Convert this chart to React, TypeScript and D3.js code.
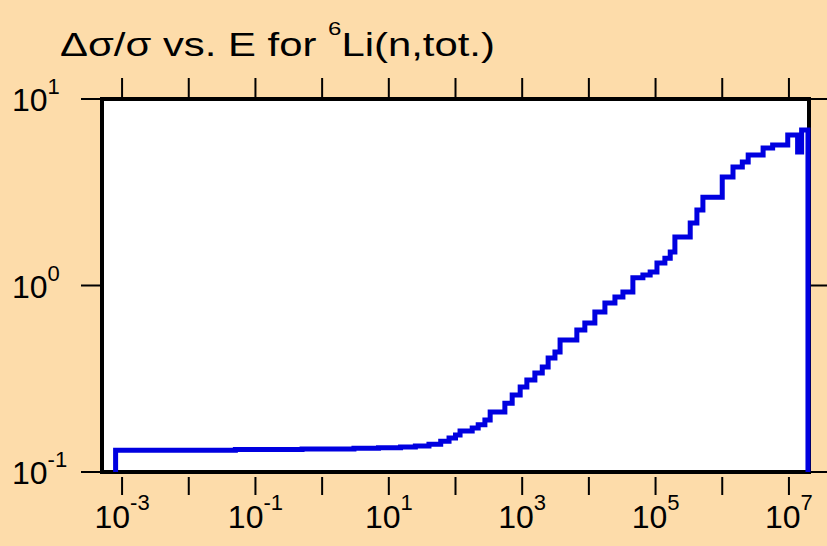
import React, { useEffect, useRef } from 'react';
import * as d3 from 'd3';

// lower edge of each energy bin (eV) and the relative uncertainty in it
const binStart = [
  8e-4, 0.05, 0.5, 3, 7, 15, 25, 40, 60, 80, 100,
  117, 178, 219, 276, 331, 550, 708, 933, 1175, 1550, 2000, 2450, 3100,
  3700, 6600, 8700, 12300, 17400, 24600, 32400, 45700, 64600, 83000,
  105000, 138000, 166000, 195000, 331000, 417000, 513000,
  1.0e6, 1.45e6, 2.0e6, 2.45e6, 4.1e6, 5.7e6, 9.6e6, 1.35e7, 1.55e7,
];
const ratio = [
  0.131, 0.132, 0.133, 0.134, 0.135, 0.136, 0.138, 0.141, 0.146, 0.152, 0.158,
  0.166, 0.172, 0.179, 0.19, 0.21, 0.234, 0.259, 0.286, 0.311, 0.34, 0.366, 0.409, 0.44,
  0.51, 0.577, 0.629, 0.721, 0.805, 0.867, 0.923, 1.1, 1.14, 1.18,
  1.32, 1.4, 1.51, 1.82, 2.16, 2.54, 2.97,
  3.82, 4.32, 4.59, 5.01, 5.46, 5.66, 6.41, 5.2, 6.82,
];
const lastEdge = 1.93e7;

const xTicks = [1e-3, 1e-2, 1e-1, 1, 10, 100, 1e3, 1e4, 1e5, 1e6, 1e7];
const xLabels = [-3, -1, 1, 3, 5, 7];
const yLabels = [-1, 0, 1];

const FONT = "'Liberation Sans', Arial, Helvetica, sans-serif";

function App() {
  const svgRef = useRef(null);

  useEffect(() => {
    const svg = d3.select(svgRef.current);
    svg.selectAll('*').remove();

    const x = d3.scaleLog().domain([5e-4, 2e7]).range([102, 809]);
    const y = d3.scaleLog().domain([0.1, 10]).range([472, 99]);

    svg.append('rect').attr('width', 827).attr('height', 546).attr('fill', '#fddcaa');

    // title (the original lettering is wider than the font, so stretch it)
    const tg = svg.append('g').attr('transform', 'translate(60,56)');
    const title = tg.append('text')
      .attr('font-family', FONT).attr('font-size', 33).attr('fill', '#000');
    title.append('tspan').text('\u0394\u03c3/\u03c3 vs. E for ');
    title.append('tspan').attr('font-size', 19).attr('dy', -21).text('6');
    title.append('tspan').attr('dy', 21).text('Li(n,tot.)');
    const bb = title.node().getBBox();
    if (bb.width > 0) tg.attr('transform', `translate(60,56) scale(${435 / bb.width},1)`);

    // plot area
    svg.append('rect')
      .attr('x', x.range()[0]).attr('y', y.range()[1])
      .attr('width', x.range()[1] - x.range()[0])
      .attr('height', y.range()[0] - y.range()[1])
      .attr('fill', '#fff')
      .attr('stroke', '#000')
      .attr('stroke-width', 4);

    // ticks outside the frame
    const tk = svg.append('g').attr('stroke', '#000').attr('stroke-width', 2);
    xTicks.forEach((t) => {
      tk.append('line').attr('x1', x(t)).attr('x2', x(t)).attr('y1', 477).attr('y2', 495);
      tk.append('line').attr('x1', x(t)).attr('x2', x(t)).attr('y1', 78).attr('y2', 97);
    });
    yLabels.forEach((p) => {
      const yy = y(Math.pow(10, p));
      tk.append('line').attr('x1', 81).attr('x2', 100).attr('y1', yy).attr('y2', yy);
      tk.append('line').attr('x1', 811).attr('x2', 827).attr('y1', yy).attr('y2', yy);
    });

    // tick labels
    xLabels.forEach((p) => {
      const t = svg.append('text')
        .attr('x', x(Math.pow(10, p))).attr('y', 528)
        .attr('text-anchor', 'middle')
        .attr('font-family', FONT).attr('font-size', 32);
      t.append('tspan').text('10');
      t.append('tspan').attr('font-size', 22).attr('dy', -18).text(String(p));
    });
    yLabels.forEach((p) => {
      const t = svg.append('text')
        .attr('x', 12).attr('y', y(Math.pow(10, p)) + 12)
        .attr('font-family', FONT).attr('font-size', 32);
      t.append('tspan').text('10');
      t.append('tspan').attr('font-size', 22).attr('dy', -17).text(String(p));
    });

    // histogram outline
    const pts = [[binStart[0], 0.1]];
    binStart.forEach((e, i) => {
      const next = i < binStart.length - 1 ? binStart[i + 1] : lastEdge;
      pts.push([e, ratio[i]]);
      pts.push([next, ratio[i]]);
    });
    pts.push([lastEdge, 0.1]);

    const line = d3.line()
      .x((d) => x(d[0]))
      .y((d) => y(d[1]));

    svg.append('path')
      .attr('d', line(pts))
      .attr('fill', 'none')
      .attr('stroke', '#0000e0')
      .attr('stroke-width', 5)
      .attr('stroke-linejoin', 'miter');
  }, []);

  return (
    <svg
      ref={svgRef}
      width="827"
      height="546"
      style={{ position: 'absolute', left: 0, top: 0 }}
    />
  );
}

export default App;
